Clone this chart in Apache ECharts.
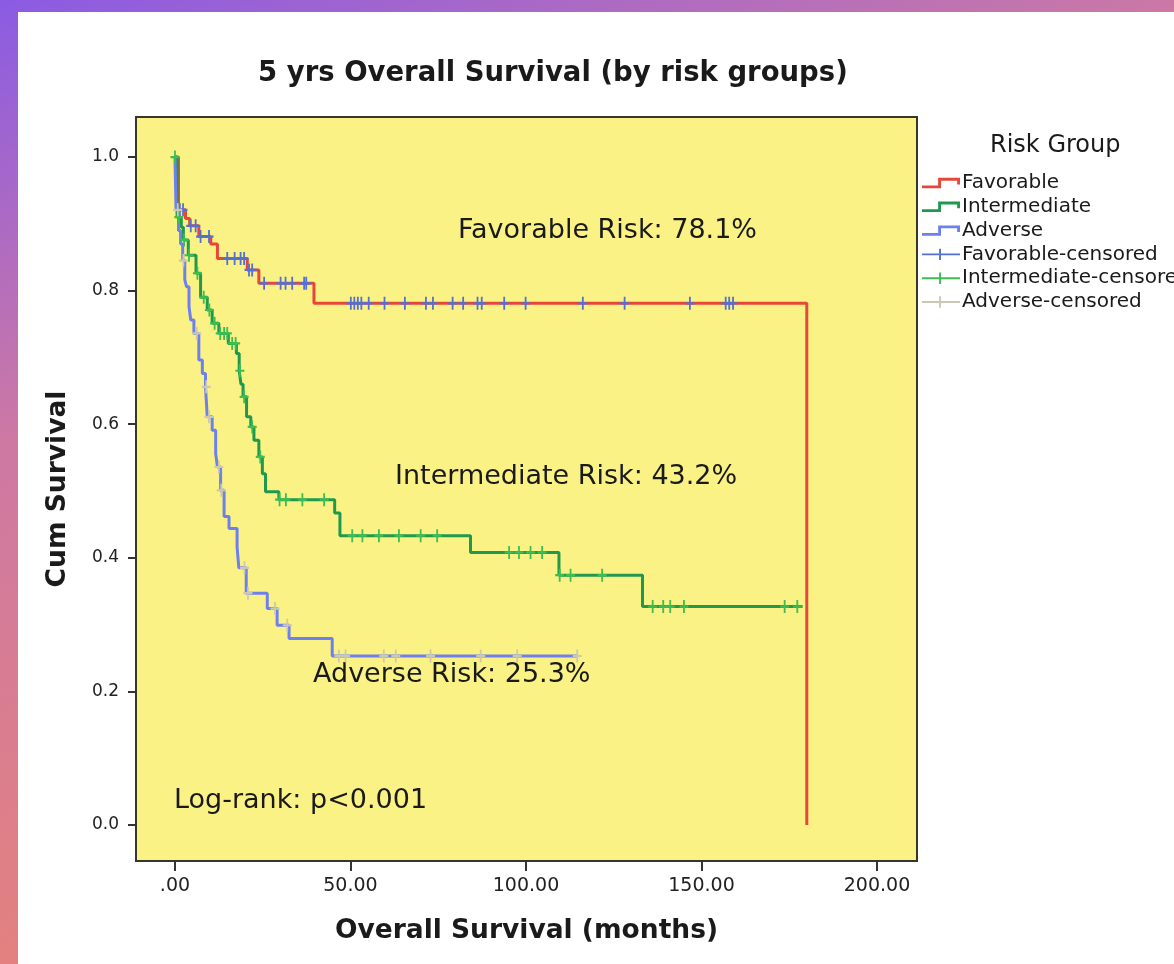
<!DOCTYPE html>
<html>
<head>
<meta charset="utf-8">
<title>5 yrs Overall Survival (by risk groups)</title>
<script src="https://cdn.jsdelivr.net/npm/echarts@6.0.0/dist/echarts.min.js"></script>
<style>
html, body { margin: 0; padding: 0; }
body {
	width: 1174px; height: 964px; overflow: hidden; position: relative;
	background: linear-gradient(160deg, #8a5be3 0%, #cd79a3 32%, #e4817f 70%, #ef8a6f 100%);
}
#panel { position: absolute; left: 18px; top: 12px; right: 0; bottom: 0; background: #fff; }
#container { position: absolute; left: 0; top: 0; width: 1174px; height: 964px; }
</style>
</head>
<body>
<div id="panel"></div>
<div id="container"></div>
<script>
// tick labels
var xTicks = [0, 50, 100, 150, 200];
var yTicks = [0, 0.2, 0.4, 0.6, 0.8, 1.0];

// Favorable: event times (months) and cum survival after each step
var favTime = [0, 1.0, 3.0, 4.2, 6.8, 10.2, 12.1, 20.6, 23.9, 39.6, 180];
var favSurv = [1.0, 0.921, 0.908, 0.897, 0.881, 0.870, 0.848, 0.831, 0.811, 0.781, 0];
var favCensTime = [1.4, 2.3, 4.5, 5.9, 7.3, 9.7, 14.9, 17.0, 18.7, 19.7, 21.1, 22.0, 25.4, 30.1, 31.5, 33.4, 36.8, 37.4,
	50.1, 51.1, 52.1, 53.1, 55.2, 59.7, 65.5, 71.5, 73.5, 79.1, 82.1, 86.2, 87.4, 93.8, 99.9, 116.2, 128.1, 146.7, 156.9, 157.9, 159.0];
var favCensSurv = [0.921, 0.921, 0.897, 0.897, 0.881, 0.881, 0.848, 0.848, 0.848, 0.848, 0.831, 0.831, 0.811, 0.811, 0.811, 0.811, 0.811, 0.811,
	0.781, 0.781, 0.781, 0.781, 0.781, 0.781, 0.781, 0.781, 0.781, 0.781, 0.781, 0.781, 0.781, 0.781, 0.781, 0.781, 0.781, 0.781, 0.781, 0.781, 0.781];

// Intermediate
var interTime = [0, 0.6, 1.8, 2.4, 3.8, 6.0, 7.3, 9.2, 10.6, 12.5, 15.2, 17.5, 18.3, 18.8, 19.4, 20.4, 21.6, 22.5, 23.9, 24.9, 25.8, 29.6, 45.5, 47.0, 84.2, 109.4, 133.2, 178.8];
var interSurv = [1.0, 0.910, 0.895, 0.876, 0.853, 0.826, 0.790, 0.771, 0.751, 0.736, 0.721, 0.706, 0.680, 0.660, 0.641, 0.611, 0.596, 0.576, 0.551, 0.526, 0.499, 0.487, 0.467, 0.433, 0.408, 0.374, 0.327, 0.327];
var interCensTime = [0, 1.1, 2.6, 4.0, 6.4, 8.2, 9.8, 11.3, 12.9, 14.0, 14.9, 16.3, 17.3, 18.5, 19.7, 22.0, 24.3,
	29.8, 31.6, 36.3, 42.5, 50.5, 53.4, 58.1, 63.8, 70.0, 74.7, 95.2, 98.0, 101.3, 104.6, 109.6, 112.7, 121.7,
	136.1, 139.1, 141.1, 145.0, 173.7, 177.3];
var interCensSurv = [1.0, 0.910, 0.876, 0.853, 0.826, 0.790, 0.771, 0.751, 0.736, 0.736, 0.736, 0.721, 0.721, 0.680, 0.641, 0.596, 0.551,
	0.487, 0.487, 0.487, 0.487, 0.433, 0.433, 0.433, 0.433, 0.433, 0.433, 0.408, 0.408, 0.408, 0.408, 0.374, 0.374, 0.374,
	0.327, 0.327, 0.327, 0.327, 0.327, 0.327];

// Adverse
var advTime = [0, 0.3, 1.0, 1.6, 2.2, 2.8, 3.3, 4.0, 4.5, 5.4, 6.8, 7.8, 8.7, 9.2, 10.6, 11.6, 12.1, 13.0, 14.0, 15.4, 17.7, 18.2, 20.3, 26.3, 29.1, 32.5, 44.8, 114.6];
var advSurv = [1.0, 0.921, 0.890, 0.870, 0.845, 0.816, 0.806, 0.776, 0.756, 0.736, 0.696, 0.676, 0.656, 0.611, 0.591, 0.556, 0.536, 0.501, 0.462, 0.444, 0.416, 0.385, 0.347, 0.324, 0.299, 0.279, 0.253, 0.253];
var advCensTime = [0.8, 2.4, 6.2, 8.9, 9.7, 12.5, 13.2, 19.8, 20.8, 28.5, 32.0, 46.7, 48.6, 59.5, 62.9, 72.8, 87.1, 97.5, 114.6];
var advCensSurv = [0.921, 0.845, 0.736, 0.656, 0.611, 0.536, 0.501, 0.385, 0.347, 0.324, 0.299, 0.253, 0.253, 0.253, 0.253, 0.253, 0.253, 0.253, 0.253];

var myChart = echarts.init(document.getElementById('container'));
myChart.setOption(kmGetOption());

function pairs(xs, ys) {
	return xs.map(function (x, i) { return [x, ys[i]]; });
}

function kmGetOption() {
	var font = '"DejaVu Sans", Verdana, sans-serif';
	var plus = 'path://M4,0H6V12H4Z M0,5H10V7H0Z';
	// step-shaped and cross-shaped legend icons, like the SPSS legend
	var stepIcon = 'path://M0,8L17,8L17,0L40,0L40,7L37,7L37,3L20,3L20,11L0,11Z';
	var crossIcon = 'path://M0,5L18,5L18,0L20,0L20,5L40,5L40,7L20,7L20,12L18,12L18,7L0,7Z';

	function kmLine(name, xs, ys, color) {
		return {
			name: name, type: 'line', step: 'end', symbol: 'none',
			data: pairs(xs, ys),
			itemStyle: { color: color },
			lineStyle: { color: color, width: 3 },
			animation: false
		};
	}
	function censored(name, xs, ys, color) {
		return {
			name: name, type: 'scatter', symbol: plus, symbolSize: [9, 13],
			data: pairs(xs, ys),
			itemStyle: { color: color, opacity: 1 },
			z: 3, animation: false
		};
	}

	var option = {
		textStyle: { fontFamily: font },
		title: {
			text: '5 yrs Overall Survival (by risk groups)',
			left: 258, top: 60, padding: 0,
			textStyle: { fontFamily: font, fontSize: 27.5, fontWeight: 'bold', color: '#1a1a1a' }
		},
		legend: {
			orient: 'vertical', left: 922, top: 173, padding: 0,
			itemWidth: 38, itemHeight: 12, itemGap: 3.8,
			itemStyle: { borderWidth: 0 },
			textStyle: { fontFamily: font, fontSize: 20, lineHeight: 20, color: '#1a1a1a', padding: [0, 0, 0, -3] },
			data: [
				{ name: 'Favorable', icon: stepIcon },
				{ name: 'Intermediate', icon: stepIcon },
				{ name: 'Adverse', icon: stepIcon },
				{ name: 'Favorable-censored', icon: crossIcon },
				{ name: 'Intermediate-censored', icon: crossIcon },
				{ name: 'Adverse-censored', icon: crossIcon }
			]
		},
		grid: {
			left: 136, top: 117, width: 781, height: 744,
			show: true, backgroundColor: '#fbf285', borderColor: '#36362c', borderWidth: 2
		},
		xAxis: {
			type: 'value', min: -11.1, max: 211.4,
			name: 'Overall Survival (months)', nameLocation: 'middle', nameGap: 57,
			nameTextStyle: { fontFamily: font, fontSize: 26.5, fontWeight: 'bold', color: '#1a1a1a' },
			splitLine: { show: false },
			axisLine: { show: true, onZero: false, lineStyle: { color: '#36362c', width: 2 } },
			axisTick: { show: true, length: 10, customValues: xTicks, lineStyle: { color: '#333', width: 2 } },
			axisLabel: {
				customValues: xTicks, margin: 16, fontSize: 19, color: '#222', fontFamily: font,
				formatter: function (v) { return v === 0 ? '.00' : v.toFixed(2); }
			}
		},
		yAxis: {
			type: 'value', min: -0.054, max: 1.06,
			name: 'Cum Survival', nameLocation: 'middle', nameGap: 64, nameRotate: 90,
			nameTextStyle: { fontFamily: font, fontSize: 26.5, fontWeight: 'bold', color: '#1a1a1a' },
			splitLine: { show: false },
			axisLine: { show: true, onZero: false, lineStyle: { color: '#36362c', width: 2 } },
			axisTick: { show: true, length: 8, customValues: yTicks, lineStyle: { color: '#333', width: 2 } },
			axisLabel: {
				customValues: yTicks, margin: 17, fontSize: 17, color: '#222', fontFamily: font,
				formatter: function (v) { return v.toFixed(1); }
			}
		},
		graphic: [
			{ type: 'text', left: 458, top: 217, style: { text: 'Favorable Risk: 78.1%', font: '27px ' + font, fill: '#1a1a1a' } },
			{ type: 'text', left: 395, top: 463, style: { text: 'Intermediate Risk: 43.2%', font: '27px ' + font, fill: '#1a1a1a' } },
			{ type: 'text', left: 313, top: 661, style: { text: 'Adverse Risk: 25.3%', font: '27px ' + font, fill: '#1a1a1a' } },
			{ type: 'text', left: 174, top: 787, style: { text: 'Log-rank: p<0.001', font: '27px ' + font, fill: '#1a1a1a' } },
			{ type: 'text', left: 990, top: 134, style: { text: 'Risk Group', font: '24px ' + font, fill: '#1a1a1a' } }
		],
		series: [
			kmLine('Favorable', favTime, favSurv, '#e9463a'),
			kmLine('Intermediate', interTime, interSurv, '#1f9a4c'),
			kmLine('Adverse', advTime, advSurv, '#6d80ee'),
			censored('Favorable-censored', favCensTime, favCensSurv, '#5470d0'),
			censored('Intermediate-censored', interCensTime, interCensSurv, '#3dbd52'),
			censored('Adverse-censored', advCensTime, advCensSurv, '#cbc8b4')
		]
	};
	return option;
}
</script>
</body>
</html>
